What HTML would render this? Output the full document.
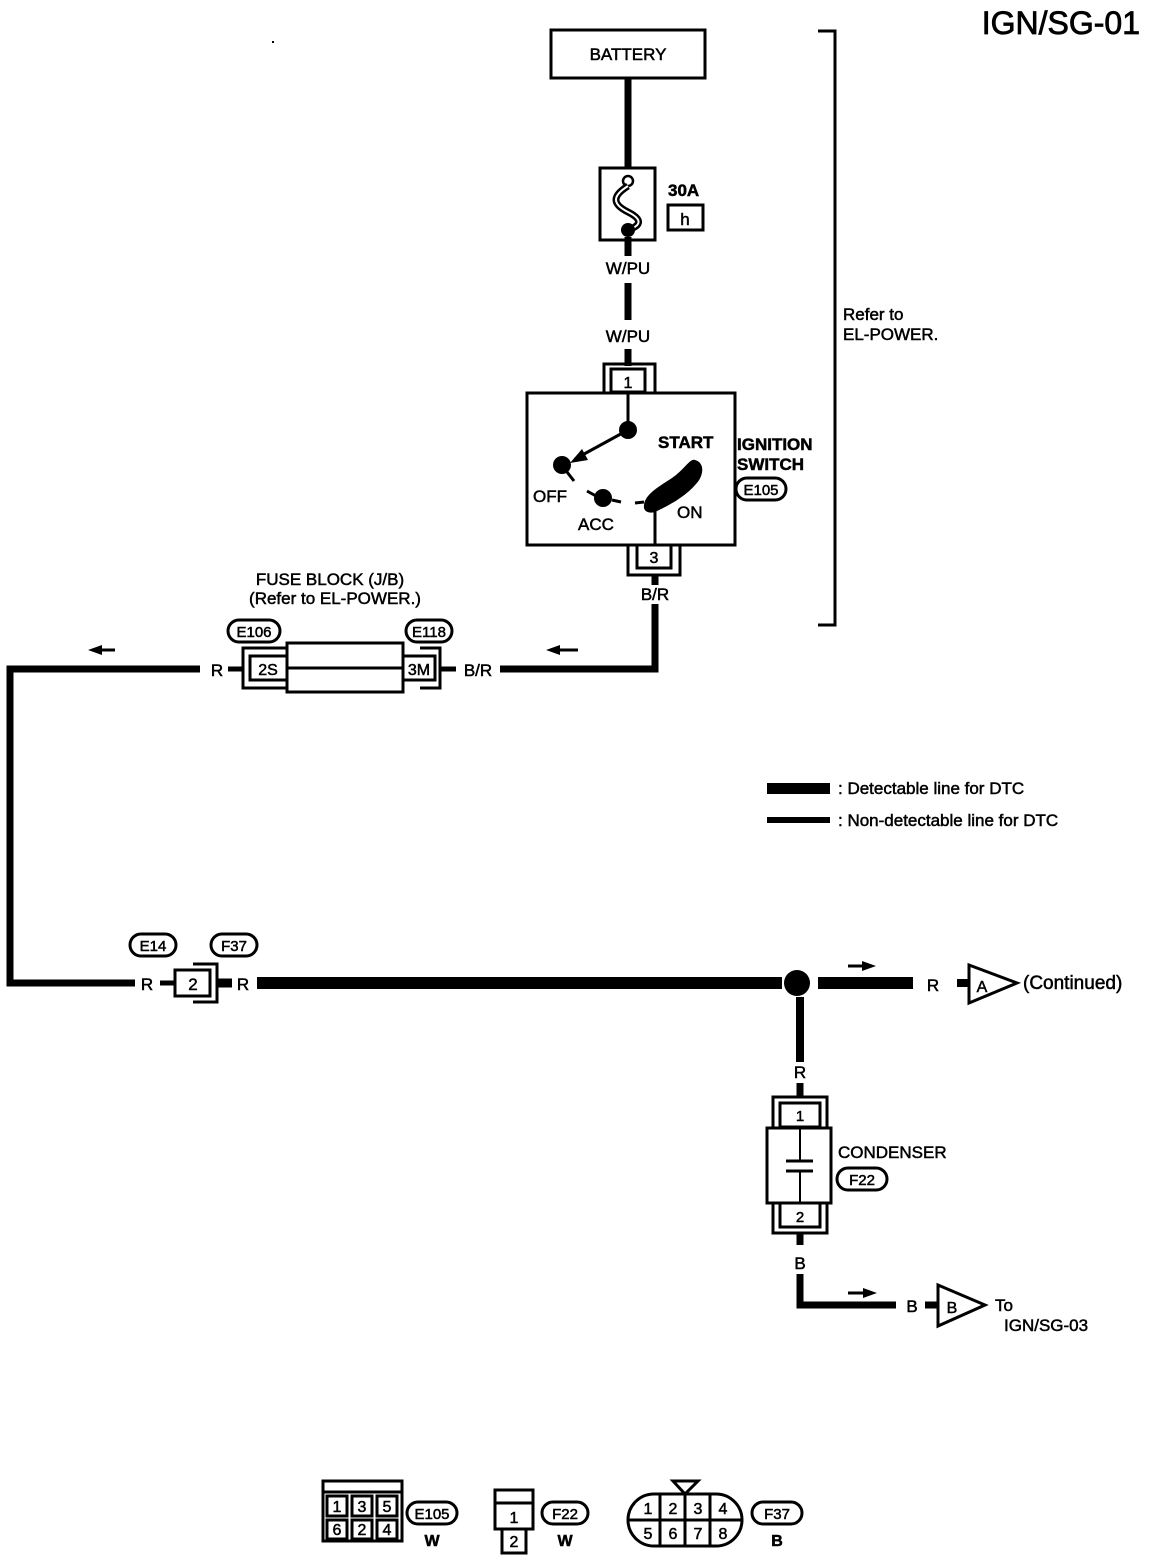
<!DOCTYPE html>
<html><head><meta charset="utf-8"><style>
html,body{margin:0;padding:0;background:#fff}
svg{display:block}
text{font-family:"Liberation Sans",Arial,sans-serif;fill:#000;stroke:#000;stroke-width:0.5}
</style></head><body>
<svg width="1152" height="1560" viewBox="0 0 1152 1560" xmlns="http://www.w3.org/2000/svg">
<text x="1140" y="34" font-size="32" text-anchor="end" style="stroke-width:0.8">IGN/SG-01</text>
<rect x="272" y="41" width="2" height="2" fill="#000"/>

<rect x="551" y="30" width="154" height="48" fill="none" stroke="#000" stroke-width="3"/>
<text x="628" y="60" font-size="17" text-anchor="middle">BATTERY</text>
<line x1="628" y1="78" x2="628" y2="172" stroke="#000" stroke-width="7"/>
<rect x="600" y="168" width="55" height="72" fill="#fff" stroke="#000" stroke-width="3"/>
<circle cx="628" cy="181" r="5" fill="#fff" stroke="#000" stroke-width="2.5"/>
<path d="M628 186 C612 196,612 204,628 212 C644 220,640 226,628 230" fill="none" stroke="#000" stroke-width="7"/>
<path d="M628 186 C612 196,612 204,628 212 C644 220,640 226,628 230" fill="none" stroke="#fff" stroke-width="2"/>
<circle cx="628" cy="230" r="7" fill="#000"/>
<line x1="628" y1="237" x2="628" y2="256" stroke="#000" stroke-width="7"/>
<text x="668" y="196" font-size="17" font-weight="bold">30A</text>
<rect x="668" y="205" width="35" height="25" fill="none" stroke="#000" stroke-width="3"/>
<text x="685" y="225" font-size="17" text-anchor="middle">h</text>
<text x="628" y="274" font-size="17" text-anchor="middle">W/PU</text>
<line x1="628" y1="283" x2="628" y2="320" stroke="#000" stroke-width="7"/>
<text x="628" y="342" font-size="17" text-anchor="middle">W/PU</text>
<line x1="628" y1="349" x2="628" y2="366" stroke="#000" stroke-width="7"/>
<path d="M604 392 V364 H655 V392" fill="none" stroke="#000" stroke-width="3"/>
<rect x="611" y="369" width="34" height="23" fill="#fff" stroke="#000" stroke-width="3"/>
<text x="628" y="388" font-size="16" text-anchor="middle">1</text>
<rect x="527" y="393" width="208" height="152" fill="none" stroke="#000" stroke-width="3"/>
<line x1="628" y1="393" x2="628" y2="430" stroke="#000" stroke-width="3"/>
<circle cx="628" cy="430" r="9" fill="#000"/>
<line x1="628" y1="430" x2="575" y2="459" stroke="#000" stroke-width="3"/>
<polygon points="570,463 582,449 588,460" fill="#000"/>
<circle cx="562" cy="465" r="9" fill="#000"/>
<line x1="567" y1="472" x2="574" y2="481" stroke="#000" stroke-width="3"/>
<text x="533" y="502" font-size="17">OFF</text>
<line x1="587" y1="491" x2="596" y2="496" stroke="#000" stroke-width="3"/>
<circle cx="603" cy="498" r="9" fill="#000"/>
<line x1="612" y1="500" x2="621" y2="502" stroke="#000" stroke-width="3"/>
<text x="578" y="530" font-size="17">ACC</text>
<line x1="635" y1="503" x2="644" y2="502" stroke="#000" stroke-width="3"/>
<path d="M644 505 C645 494,660 486,672 478 C684 470,690 458,695 460 C706 463,703 477,696 484 C686 496,670 505,655 512 C648 514,643 511,644 505 Z" fill="#000"/>
<line x1="655" y1="505" x2="655" y2="545" stroke="#000" stroke-width="3"/>
<text x="658" y="448" font-size="17" font-weight="bold">START</text>
<text x="677" y="518" font-size="17">ON</text>
<text x="737" y="450" font-size="17" font-weight="bold">IGNITION</text>
<text x="737" y="470" font-size="17" font-weight="bold">SWITCH</text>
<rect x="736" y="478" width="50" height="22" rx="11" fill="none" stroke="#000" stroke-width="3"/>
<text x="761" y="495" font-size="15" text-anchor="middle">E105</text>
<path d="M628 545 V575 H680 V545" fill="none" stroke="#000" stroke-width="3"/>
<rect x="637" y="545" width="34" height="23" fill="#fff" stroke="#000" stroke-width="3"/>
<text x="654" y="563" font-size="16" text-anchor="middle">3</text>
<line x1="655" y1="576" x2="655" y2="585" stroke="#000" stroke-width="7"/>
<text x="655" y="600" font-size="17" text-anchor="middle">B/R</text>
<polyline points="655,604 655,669 500,669" fill="none" stroke="#000" stroke-width="7"/>
<polyline points="818,31 835,31 835,625 818,625" fill="none" stroke="#000" stroke-width="3"/>
<text x="843" y="320" font-size="17">Refer to</text>
<text x="843" y="340" font-size="17">EL-POWER.</text>
<text x="330" y="585" font-size="17" text-anchor="middle">FUSE BLOCK (J/B)</text>
<text x="335" y="604" font-size="17" text-anchor="middle">(Refer to EL-POWER.)</text>
<rect x="228" y="620" width="52" height="22" rx="11" fill="none" stroke="#000" stroke-width="3"/>
<text x="254" y="637" font-size="15" text-anchor="middle">E106</text>
<rect x="406" y="620" width="46" height="22" rx="11" fill="none" stroke="#000" stroke-width="3"/>
<text x="429" y="637" font-size="15" text-anchor="middle">E118</text>
<rect x="287" y="643" width="116" height="49" fill="none" stroke="#000" stroke-width="3"/>
<line x1="287" y1="668" x2="403" y2="668" stroke="#000" stroke-width="3"/>
<path d="M287 648 H243 V688 H287" fill="none" stroke="#000" stroke-width="3"/>
<rect x="250" y="656" width="37" height="24" fill="#fff" stroke="#000" stroke-width="3"/>
<text x="268" y="675" font-size="16" text-anchor="middle">2S</text>
<path d="M420 648 H440 V688 H420" fill="none" stroke="#000" stroke-width="3"/>
<rect x="403" y="656" width="32" height="24" fill="#fff" stroke="#000" stroke-width="3"/>
<text x="419" y="675" font-size="16" text-anchor="middle">3M</text>
<line x1="228" y1="669" x2="243" y2="669" stroke="#000" stroke-width="5"/>
<text x="217" y="676" font-size="17" text-anchor="middle">R</text>
<line x1="440" y1="669" x2="456" y2="669" stroke="#000" stroke-width="5"/>
<text x="478" y="676" font-size="17" text-anchor="middle">B/R</text>
<polygon points="88,650 102,645 102,655" fill="#000"/><line x1="100" y1="650" x2="115" y2="650" stroke="#000" stroke-width="3"/>
<polygon points="546,650 560,645 560,655" fill="#000"/><line x1="558" y1="650" x2="578" y2="650" stroke="#000" stroke-width="3"/>
<polyline points="200,669 10,669 10,983 135,983" fill="none" stroke="#000" stroke-width="7"/>
<rect x="767" y="783" width="63" height="11" fill="#000"/>
<text x="838" y="794" font-size="17">: Detectable line for DTC</text>
<rect x="767" y="817" width="63" height="6" fill="#000"/>
<text x="838" y="826" font-size="17">: Non-detectable line for DTC</text>
<rect x="130" y="934" width="46" height="22" rx="11" fill="none" stroke="#000" stroke-width="3"/>
<text x="153" y="951" font-size="15" text-anchor="middle">E14</text>
<rect x="211" y="934" width="46" height="22" rx="11" fill="none" stroke="#000" stroke-width="3"/>
<text x="234" y="951" font-size="15" text-anchor="middle">F37</text>
<text x="147" y="990" font-size="17" text-anchor="middle">R</text>
<line x1="160" y1="983" x2="175" y2="983" stroke="#000" stroke-width="5"/>
<path d="M193 964 H217 V1002 H193" fill="none" stroke="#000" stroke-width="3"/>
<rect x="175" y="970" width="35" height="26" fill="#fff" stroke="#000" stroke-width="3"/>
<text x="193" y="990" font-size="17" text-anchor="middle">2</text>
<line x1="217" y1="983" x2="232" y2="983" stroke="#000" stroke-width="9"/>
<text x="243" y="990" font-size="17" text-anchor="middle">R</text>
<line x1="257" y1="983" x2="782" y2="983" stroke="#000" stroke-width="12"/>
<circle cx="797" cy="983" r="13" fill="#000"/>
<line x1="818" y1="983" x2="913" y2="983" stroke="#000" stroke-width="12"/>
<polygon points="876,966 862,961 862,971" fill="#000"/><line x1="848" y1="966" x2="864" y2="966" stroke="#000" stroke-width="3"/>
<text x="933" y="991" font-size="17" text-anchor="middle">R</text>
<line x1="957" y1="983" x2="969" y2="983" stroke="#000" stroke-width="8"/>
<polygon points="969,965 969,1003 1017,983" fill="#fff" stroke="#000" stroke-width="3"/>
<text x="982" y="992" font-size="16" text-anchor="middle">A</text>
<text x="1023" y="989" font-size="19">(Continued)</text>
<line x1="800" y1="997" x2="800" y2="1062" stroke="#000" stroke-width="8"/>
<text x="800" y="1078" font-size="17" text-anchor="middle">R</text>
<line x1="800" y1="1083" x2="800" y2="1096" stroke="#000" stroke-width="7"/>
<path d="M773 1127 V1097 H827 V1127" fill="none" stroke="#000" stroke-width="3"/>
<rect x="780" y="1103" width="40" height="24" fill="#fff" stroke="#000" stroke-width="3"/>
<text x="800" y="1121" font-size="15" text-anchor="middle">1</text>
<rect x="767" y="1128" width="64" height="75" fill="none" stroke="#000" stroke-width="3"/>
<line x1="800" y1="1128" x2="800" y2="1161" stroke="#000" stroke-width="2"/>
<line x1="786" y1="1161" x2="813" y2="1161" stroke="#000" stroke-width="3"/>
<line x1="786" y1="1171" x2="813" y2="1171" stroke="#000" stroke-width="3"/>
<line x1="800" y1="1171" x2="800" y2="1203" stroke="#000" stroke-width="2"/>
<rect x="780" y="1203" width="40" height="24" fill="#fff" stroke="#000" stroke-width="3"/>
<text x="800" y="1222" font-size="15" text-anchor="middle">2</text>
<path d="M773 1203 V1233 H827 V1203" fill="none" stroke="#000" stroke-width="3"/>
<text x="838" y="1158" font-size="17">CONDENSER</text>
<rect x="837" y="1168" width="50" height="22" rx="11" fill="none" stroke="#000" stroke-width="3"/>
<text x="862" y="1185" font-size="15" text-anchor="middle">F22</text>
<line x1="800" y1="1233" x2="800" y2="1245" stroke="#000" stroke-width="7"/>
<text x="800" y="1269" font-size="17" text-anchor="middle">B</text>
<polyline points="800,1274 800,1305 896,1305" fill="none" stroke="#000" stroke-width="7"/>
<polygon points="877,1293 863,1288 863,1298" fill="#000"/><line x1="848" y1="1293" x2="865" y2="1293" stroke="#000" stroke-width="3"/>
<text x="912" y="1312" font-size="17" text-anchor="middle">B</text>
<line x1="925" y1="1305" x2="938" y2="1305" stroke="#000" stroke-width="7"/>
<polygon points="938,1285 938,1326 985,1305" fill="#fff" stroke="#000" stroke-width="3"/>
<text x="952" y="1313" font-size="16" text-anchor="middle">B</text>
<text x="995" y="1311" font-size="17">To</text>
<text x="1004" y="1331" font-size="17">IGN/SG-03</text>
<g stroke="#000" stroke-width="3" fill="#fff">
<rect x="323" y="1481" width="79" height="11"/>
<rect x="323" y="1492" width="79" height="49" fill="none"/>
<rect x="327" y="1496" width="20" height="20"/><rect x="352" y="1496" width="20" height="20"/><rect x="377" y="1496" width="20" height="20"/>
<rect x="327" y="1520" width="20" height="19"/><rect x="352" y="1520" width="20" height="19"/><rect x="377" y="1520" width="20" height="19"/>
<rect x="407" y="1502" width="50" height="22" rx="11" fill="none"/>
<rect x="495" y="1490" width="38" height="13"/>
<rect x="495" y="1503" width="38" height="26"/>
<rect x="502" y="1529" width="24" height="24"/>
<rect x="542" y="1502" width="46" height="22" rx="11" fill="none"/>
<polygon points="673,1481 698,1481 685,1494" />
<rect x="628" y="1494" width="114" height="52" rx="26"/>
<line x1="628" y1="1520" x2="742" y2="1520"/>
<line x1="660" y1="1494" x2="660" y2="1546"/><line x1="685" y1="1494" x2="685" y2="1546"/><line x1="710" y1="1494" x2="710" y2="1546"/>
<rect x="752" y="1502" width="50" height="22" rx="11" fill="none"/>
</g>
<g font-size="16" text-anchor="middle">
<text x="337" y="1512">1</text><text x="362" y="1512">3</text><text x="387" y="1512">5</text>
<text x="337" y="1535">6</text><text x="362" y="1535">2</text><text x="387" y="1535">4</text>
<text x="432" y="1519" font-size="15">E105</text><text x="432" y="1546" font-weight="bold">W</text>
<text x="514" y="1523">1</text><text x="514" y="1547">2</text>
<text x="565" y="1519" font-size="15">F22</text><text x="565" y="1546" font-weight="bold">W</text>
<text x="648" y="1514">1</text><text x="673" y="1514">2</text><text x="698" y="1514">3</text><text x="723" y="1514">4</text>
<text x="648" y="1539">5</text><text x="673" y="1539">6</text><text x="698" y="1539">7</text><text x="723" y="1539">8</text>
<text x="777" y="1519" font-size="15">F37</text><text x="777" y="1546" font-weight="bold">B</text>
</g>
</svg>
</body></html>
